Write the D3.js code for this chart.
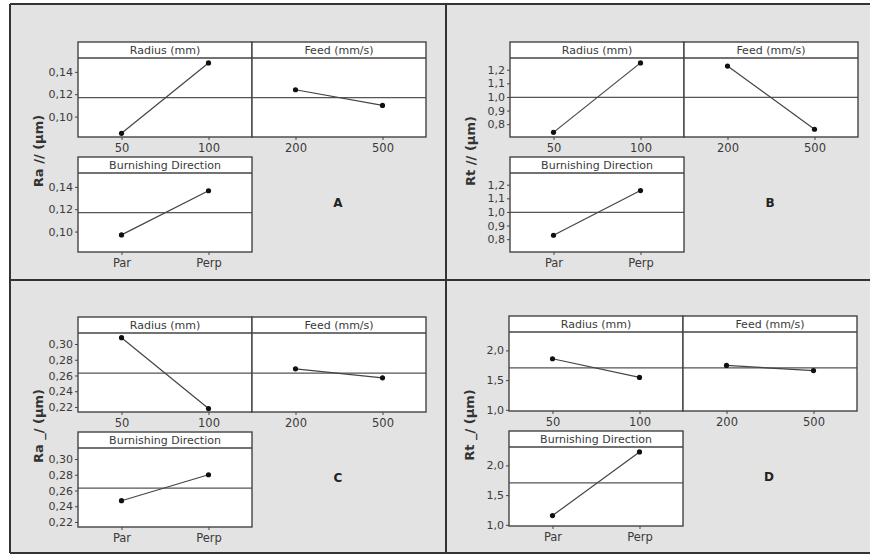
<!DOCTYPE html>
<html>
<head>
<meta charset="utf-8">
<script src="https://cdn.jsdelivr.net/npm/d3@7"></script>
<style>
  body { margin: 0; background: #fff; }
  text { font-family: "DejaVu Sans", sans-serif; }
</style>
</head>
<body>
<script>
// factor levels
const radiusLevels = ["50", "100"];
const feedLevels = ["200", "500"];
const dirLevels = ["Par", "Perp"];
const factorNames = ["Radius (mm)", "Feed (mm/s)", "Burnishing Direction"];

// one entry per plot A..D
const plotLetters = ["A", "B", "C", "D"];
const responseLabels = ["Ra // (µm)", "Rt // (µm)", "Ra _/ (µm)", "Rt _/ (µm)"];
const radiusMeans = [[0.085, 0.148], [0.74, 1.25], [0.308, 0.218], [1.86, 1.546]];
const feedMeans = [[0.124, 0.110], [1.227, 0.763], [0.2685, 0.257], [1.747, 1.66]];
const dirMeans = [[0.097, 0.1365], [0.829, 1.157], [0.247, 0.280], [1.155, 2.227]];
const grandMeans = [0.117, 0.997, 0.263, 1.705];
const yTicks = [
  [0.10, 0.12, 0.14],
  [0.8, 0.9, 1.0, 1.1, 1.2],
  [0.22, 0.24, 0.26, 0.28, 0.30],
  [1.0, 1.5, 2.0]
];
const yDomains = [[0.0817, 0.1524], [0.706, 1.286], [0.2136, 0.314], [0.98, 2.31]];
const yDecimals = [2, 1, 2, 1];

const W = 870, H = 556;
const bg = "#e3e3e3", ink = "#3a3a3a", frame = "#444";

// comma as decimal separator, like the original
const locale = d3.formatLocale({decimal: ",", thousands: ".", grouping: [3], currency: ["", ""]});

const svg = d3.select("body").append("svg")
    .attr("width", W)
    .attr("height", H);

svg.append("rect").attr("width", W).attr("height", H).attr("fill", "#fff");
svg.append("rect")
    .attr("x", 10).attr("y", 4).attr("width", W - 10).attr("height", 549)
    .attr("fill", bg);

// outer frame + dividers
const fr = svg.append("g").attr("stroke", "#333").attr("stroke-width", 2).attr("fill", "none");
fr.append("line").attr("x1", 10).attr("x2", 10).attr("y1", 4).attr("y2", 553);
fr.append("line").attr("x1", 10).attr("x2", W).attr("y1", 4).attr("y2", 4);
fr.append("line").attr("x1", 10).attr("x2", W).attr("y1", 553).attr("y2", 553);
fr.append("line").attr("x1", 446).attr("x2", 446).attr("y1", 4).attr("y2", 553);
fr.append("line").attr("x1", 10).attr("x2", W).attr("y1", 280).attr("y2", 280);

// where each plot's top-left panel starts
const origins = [[78, 42], [510, 42], [78, 317], [509, 316]];
const pw = 174, ph = 95, strip = 16, rowGap = 115;

function panel(g, x0, y0, title, levels, means, y, gm, showY, fmt, ticks) {
  const x = d3.scalePoint().domain(levels).range([0, pw]).padding(0.5);
  const p = g.append("g").attr("transform", `translate(${x0},${y0})`);

  p.append("rect").attr("width", pw).attr("height", ph).attr("fill", "#fff");

  // grand mean reference line
  p.append("line")
      .attr("x1", 0).attr("x2", pw)
      .attr("y1", y(gm)).attr("y2", y(gm))
      .attr("stroke", "#555").attr("stroke-width", 1.3);

  const line = d3.line().x((d, i) => x(levels[i])).y(d => y(d));
  p.append("path")
      .attr("d", line(means))
      .attr("fill", "none")
      .attr("stroke", "#444")
      .attr("stroke-width", 1.2);
  p.selectAll("circle").data(means).join("circle")
      .attr("cx", (d, i) => x(levels[i]))
      .attr("cy", d => y(d))
      .attr("r", 2.6)
      .attr("fill", "#111");

  // strip on top
  p.append("rect").attr("width", pw).attr("height", strip).attr("fill", "#fff");
  p.append("line").attr("x1", 0).attr("x2", pw).attr("y1", strip).attr("y2", strip)
      .attr("stroke", frame).attr("stroke-width", 1.4);
  p.append("text")
      .attr("x", pw / 2).attr("y", strip / 2)
      .attr("dy", "0.36em")
      .attr("text-anchor", "middle")
      .attr("font-size", 11)
      .attr("fill", ink)
      .text(title);

  p.append("rect").attr("width", pw).attr("height", ph)
      .attr("fill", "none").attr("stroke", frame).attr("stroke-width", 1.4);

  const xa = p.append("g").attr("transform", `translate(0,${ph})`)
      .call(d3.axisBottom(x).tickSize(3).tickSizeOuter(0).tickPadding(4));
  xa.select(".domain").remove();
  xa.selectAll("line").attr("stroke", frame);
  xa.selectAll("text").attr("font-size", 11.5).attr("fill", ink)
      .attr("font-family", "DejaVu Sans, sans-serif");

  if (showY) {
    const ya = p.append("g")
        .call(d3.axisLeft(y).tickValues(ticks).tickFormat(fmt).tickSize(3).tickPadding(2));
    ya.select(".domain").remove();
    ya.selectAll("line").attr("stroke", frame);
    ya.selectAll("text").attr("font-size", 11).attr("fill", ink)
        .attr("font-family", "DejaVu Sans, sans-serif");
  }
}

plotLetters.forEach((letter, k) => {
  const [ox, oy] = origins[k];
  const g = svg.append("g");
  const fmt = locale.format(`.${yDecimals[k]}f`);
  const yTop = d3.scaleLinear().domain(yDomains[k]).range([ph, strip]);

  panel(g, ox, oy, factorNames[0], radiusLevels, radiusMeans[k], yTop, grandMeans[k], true, fmt, yTicks[k]);
  panel(g, ox + pw, oy, factorNames[1], feedLevels, feedMeans[k], yTop, grandMeans[k], false, fmt, yTicks[k]);
  panel(g, ox, oy + rowGap, factorNames[2], dirLevels, dirMeans[k], yTop, grandMeans[k], true, fmt, yTicks[k]);

  g.append("text")
      .attr("transform", `translate(${ox - 40},${oy + 109}) rotate(-90)`)
      .attr("text-anchor", "middle")
      .attr("dy", "0.35em")
      .attr("font-size", 13)
      .attr("font-weight", "bold")
      .attr("fill", "#333")
      .text(responseLabels[k]);

  g.append("text")
      .attr("x", ox + 260).attr("y", oy + 161)
      .attr("text-anchor", "middle")
      .attr("dy", "0.35em")
      .attr("font-family", "DejaVu Serif, serif")
      .attr("font-weight", "bold")
      .attr("font-size", 12)
      .attr("fill", "#222")
      .text(letter);
});
</script>
</body>
</html>
